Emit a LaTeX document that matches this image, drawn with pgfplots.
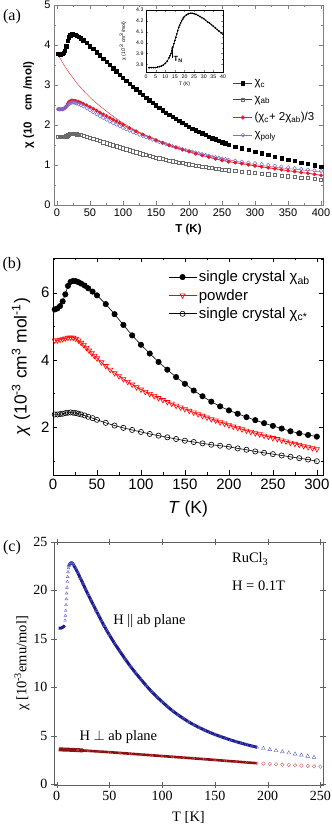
\documentclass[border=0pt]{standalone}
\usepackage{fontspec}
\setmainfont{Liberation Sans}
\newfontfamily\tnr{Liberation Serif}
\usepackage{pgfplots}
\usepackage{pgfplotstable}
\pgfplotsset{compat=1.18}
\usetikzlibrary{arrows.meta}

\newcommand\fsz[1]{\fontsize{#1pt}{#1pt}\selectfont}

\definecolor{lav}{RGB}{115,115,215}
\definecolor{redA}{RGB}{230,25,45}
\definecolor{grayA}{RGB}{105,105,105}
\definecolor{navyc}{RGB}{28,28,140}
\definecolor{lightnavy}{RGB}{95,95,205}
\definecolor{darkredc}{RGB}{140,18,18}
\definecolor{lightredc}{RGB}{205,95,95}

% panel (a): T, chi_c, chi_ab, (chi_c+2chi_ab)/3, chi_poly
\pgfplotstableread{
T chic chiab avg poly
2 3.78 1.700 2.393 2.400
4 3.77 1.700 2.390 2.400
6 3.77 1.700 2.390 2.400
8 3.78 1.700 2.393 2.400
10 3.80 1.700 2.400 2.410
12 3.86 1.710 2.427 2.420
14 3.97 1.720 2.470 2.450
16 4.10 1.745 2.530 2.490
18 4.19 1.765 2.573 2.520
20 4.24 1.775 2.597 2.545
22 4.27 1.780 2.610 2.560
24 4.27 1.780 2.610 2.565
26 4.26 1.780 2.607 2.560
28 4.25 1.775 2.600 2.550
30 4.23 1.770 2.590 2.540
33 4.20 1.765 2.577 2.520
36 4.17 1.755 2.560 2.500
40 4.12 1.740 2.533 2.465
45 4.05 1.715 2.493 2.420
50 3.97 1.690 2.450 2.370
55 3.90 1.660 2.407 2.320
60 3.82 1.630 2.360 2.270
65 3.74 1.600 2.313 2.225
70 3.66 1.570 2.267 2.180
75 3.58 1.545 2.223 2.135
80 3.50 1.520 2.180 2.090
85 3.42 1.495 2.137 2.050
90 3.34 1.470 2.093 2.010
95 3.26 1.445 2.050 1.970
100 3.18 1.420 2.007 1.930
105 3.10 1.395 1.963 1.895
110 3.03 1.370 1.923 1.860
115 2.96 1.345 1.883 1.825
120 2.89 1.320 1.843 1.790
125 2.82 1.295 1.803 1.760
130 2.75 1.270 1.763 1.725
135 2.68 1.250 1.727 1.695
140 2.62 1.230 1.693 1.665
145 2.55 1.210 1.657 1.635
150 2.49 1.190 1.623 1.605
155 2.43 1.170 1.590 1.575
160 2.37 1.150 1.557 1.550
165 2.31 1.130 1.523 1.520
170 2.26 1.110 1.493 1.495
175 2.20 1.095 1.463 1.470
180 2.15 1.080 1.437 1.445
185 2.10 1.065 1.410 1.420
190 2.05 1.050 1.383 1.395
195 2.00 1.035 1.357 1.370
200 1.96 1.020 1.333 1.350
205 1.91 1.005 1.307 1.330
210 1.87 0.990 1.283 1.310
215 1.83 0.975 1.260 1.290
220 1.79 0.960 1.237 1.270
225 1.75 0.950 1.217 1.250
230 1.71 0.940 1.197 1.230
235 1.67 0.925 1.173 1.210
240 1.64 0.910 1.153 1.195
245 1.60 0.900 1.133 1.180
250 1.57 0.890 1.117 1.160
255 1.54 0.880 1.100 1.145
260 1.51 0.870 1.083 1.130
270 1.46 0.855 1.057 1.105
280 1.42 0.840 1.033 1.080
290 1.38 0.820 1.007 1.060
300 1.33 0.800 0.977 1.040
310 1.29 0.785 0.953 1.020
320 1.25 0.770 0.930 1.000
330 1.21 0.755 0.907 0.980
340 1.17 0.740 0.883 0.960
350 1.13 0.720 0.857 0.940
360 1.10 0.705 0.837 0.920
370 1.06 0.690 0.813 0.900
380 1.03 0.675 0.793 0.885
390 0.99 0.655 0.767 0.865
400 0.96 0.635 0.743 0.850
}\tabA

% panel (b) powder
\pgfplotstableread{
T chi
2 4.58
5 4.58
8 4.60
11 4.62
14 4.64
17 4.66
20 4.67
23 4.66
26 4.63
29 4.58
32 4.51
35 4.44
38 4.36
41 4.28
44 4.20
47 4.12
50 4.05
55 3.93
60 3.82
65 3.71
70 3.61
75 3.52
80 3.43
85 3.35
90 3.27
95 3.19
100 3.12
105 3.05
110 2.99
115 2.93
120 2.87
125 2.81
130 2.75
135 2.70
140 2.64
145 2.59
150 2.54
155 2.49
160 2.44
165 2.39
170 2.34
175 2.29
180 2.24
185 2.20
190 2.15
195 2.11
200 2.06
205 2.02
210 1.98
215 1.94
220 1.90
225 1.86
230 1.82
235 1.79
240 1.75
245 1.72
250 1.68
255 1.65
260 1.61
265 1.58
270 1.54
275 1.51
280 1.48
285 1.44
290 1.41
295 1.38
300 1.35
}\tabPowder

\begin{document}
\begin{tikzpicture}
\path[use as bounding box] (0,0) rectangle (332pt,825pt);

% ---------------- (a)
\begin{axis}[at={(54pt,620pt)}, anchor=south west, scale only axis,
  width=269pt, height=200pt,
  xmin=-4.5, xmax=403, ymin=0, ymax=5,
  xtick={0,50,...,400}, ytick={0,1,...,5},
  minor x tick num=1, minor y tick num=1,
  tick align=inside, major tick length=4pt, minor tick length=2.2pt,
  axis line style={gray}, tick style={gray},
  /pgf/number format/assume math mode=true,
  ticklabel style={font=\fsz{11}},
  xlabel={T (K)},
  ylabel={χ (10\phantom{\textsuperscript{-3}} cm\phantom{\textsuperscript{3}}/mol)},
  label style={font=\bfseries\fsz{11.5}},
  xlabel style={at={(axis description cs:0.5,-0.125)}, anchor=center},
  ylabel style={at={(axis description cs:-0.097,0.5)}, anchor=center},
  legend cell align=left,
  legend style={draw=none, fill=none, font=\fsz{11.5},
    at={(0.654,0.65)}, anchor=north west, row sep=5pt},
  legend image code/.code={\draw[mark repeat=2,mark phase=2,#1]
    plot coordinates {(0pt,0pt) (9.5pt,0pt) (19pt,0pt)};},
]
\addlegendimage{gray!50!black, line width=0.5pt, mark=square*, mark size=1.8pt, mark options={fill=black, draw=black}}
\addlegendentry{χ\textsubscript{c}}
\addlegendimage{gray!50!black, line width=0.5pt, mark=square, mark size=1.8pt, mark options={draw=grayA}}
\addlegendentry{χ\textsubscript{ab}}
\addlegendimage{redA, line width=0.5pt, mark=*, mark size=1.8pt}
\addlegendentry{(χ\textsubscript{c}+ 2χ\textsubscript{ab})/3}
\addlegendimage{lav, line width=0.5pt, mark=o, mark size=1.8pt}
\addlegendentry{χ\textsubscript{poly}}

\addplot[only marks, mark=square*, mark size=1.7pt, black, forget plot] table[x=T, y=chic] {\tabA};
\addplot[only marks, mark=square, mark size=1.6pt, grayA, line width=0.45pt, forget plot] table[x=T, y=chiab] {\tabA};
\addplot[only marks, mark=*, mark size=1.7pt, redA, forget plot, restrict x to domain=0:97] table[x=T, y=avg] {\tabA};
\addplot[only marks, mark=o, mark size=1.8pt, lav, line width=0.5pt, forget plot] table[x=T, y=poly] {\tabA};
\addplot[redA, line width=0.8pt, forget plot] table[x=T, y=avg] {\tabA};
% Curie-Weiss fit
\addplot[redA, line width=0.4pt, smooth, forget plot] coordinates {
(2,3.75) (5,3.66) (10,3.52) (15,3.39) (20,3.27) (25,3.16) (30,3.05) (35,2.95)
(40,2.86) (50,2.69) (60,2.54) (70,2.41) (80,2.28) (90,2.16) (100,2.05)
(110,1.95) (120,1.86) (130,1.78) (140,1.71) (150,1.64) (170,1.51) (200,1.36)
(250,1.16) (300,1.01) (350,0.91) (400,0.83)};
\addplot[only marks, mark=*, mark size=1.7pt, redA, forget plot] coordinates {
(100,2.007) (110,1.923) (120,1.843) (130,1.763) (140,1.693) (150,1.623)
(160,1.557) (170,1.493) (180,1.437) (190,1.383) (200,1.333) (210,1.283)
(220,1.237) (230,1.197) (240,1.153) (250,1.117) (260,1.083) (270,1.057)
(280,1.033) (290,1.007) (300,0.977) (310,0.953) (320,0.930) (330,0.907)
(340,0.883) (350,0.857) (360,0.837) (370,0.813) (380,0.793) (390,0.767)
(400,0.743)};
\end{axis}

% inset of (a)
\begin{axis}[at={(146pt,753pt)}, anchor=south west, scale only axis,
  width=77pt, height=62pt,
  xmin=0, xmax=40, ymin=3.73, ymax=4.3,
  xtick={0,5,...,40}, ytick={3.8,3.9,4.0,4.1,4.2,4.3},
  minor y tick num=1, minor x tick num=0,
  tick align=inside, major tick length=2pt, minor tick length=1.2pt,
  axis background/.style={fill=white},
  axis line style={black, line width=0.4pt},
  /pgf/number format/assume math mode=true,
  yticklabel style={/pgf/number format/fixed, /pgf/number format/fixed zerofill,
    /pgf/number format/precision=1, xshift=1pt},
  xticklabel style={yshift=1pt},
  ticklabel style={font=\fsz{5.2}},
  xlabel={T (K)}, ylabel={χ (10\textsuperscript{-3} cm\textsuperscript{3}/mol)},
  label style={font=\fsz{5}},
  xlabel style={at={(axis description cs:0.5,-0.2)}, anchor=center},
  ylabel style={at={(axis description cs:-0.3,0.5)}, anchor=center},
]
\addplot[black, line width=0.6pt, mark=*, mark size=0.55pt] coordinates {
(1.5,3.77) (2,3.77) (3,3.77) (4,3.77) (5,3.77) (6,3.775) (7,3.78) (8,3.785)
(9,3.795) (10,3.81) (11,3.83) (12,3.86) (12.5,3.88) (13,3.90) (13.5,3.93)
(14,3.96) (14.5,3.99) (15,4.02) (15.5,4.05) (16,4.08) (16.5,4.11) (17,4.14)
(17.5,4.16) (18,4.18) (18.5,4.20) (19,4.215) (19.5,4.23) (20,4.24) (21,4.255)
(22,4.265) (23,4.27) (24,4.27) (25,4.265) (26,4.26) (27,4.25) (28,4.24)
(29,4.23) (30,4.22) (31,4.205) (32,4.19) (33,4.18) (34,4.165) (35,4.15)
(36,4.135) (37,4.12) (38,4.105) (39,4.09) (40,4.075)};
\draw[-{Stealth[length=2.5pt,width=2pt]}, line width=0.45pt] (axis cs:13.6,3.86) -- (axis cs:13.6,3.965);
\node[anchor=west, font=\bfseries\fsz{7.5}, inner sep=0pt] at (axis cs:14.3,3.845) {T\textsubscript{N}};
\end{axis}

% ---------------- (b)
\begin{axis}[at={(53pt,350pt)}, anchor=south west, scale only axis,
  width=270pt, height=217pt,
  xmin=0, xmax=307, ymin=0.58, ymax=7.03,
  xtick={0,50,...,300}, minor xtick={25,75,...,275},
  ytick={2,4,6}, minor ytick={1,3,5,7},
  tick align=inside, major tick length=4.5pt, minor tick length=2.5pt,
  axis line style={black}, tick style={black},
  /pgf/number format/assume math mode=true,
  ticklabel style={font=\fsz{15}},
  xlabel={\textit{T} (K)},
  ylabel={\textit{χ} (10\textsuperscript{-3} cm\textsuperscript{3} mol\textsuperscript{-1})},
  label style={font=\fsz{17.5}},
  xlabel style={at={(axis description cs:0.5,-0.155)}, anchor=center},
  ylabel style={at={(axis description cs:-0.118,0.5)}, anchor=center},
  legend cell align=left,
  legend style={draw=none, fill=none, font=\fsz{15},
    at={(0.415,0.96)}, anchor=north west, row sep=2pt},
  legend image code/.code={\draw[mark repeat=2,mark phase=2,#1]
    plot coordinates {(0pt,0pt) (14pt,0pt) (28pt,0pt)};},
]
\addplot[black, line width=0.6pt, mark=*, mark size=2.7pt] coordinates {
(2,5.50) (5,5.53) (8,5.60) (11,5.74) (14,5.95) (17,6.20) (20,6.32) (23,6.35)
(26,6.34) (29,6.31) (32,6.27) (36,6.21) (40,6.13) (45,6.03) (50,5.92)
(60,5.66) (70,5.36) (80,5.04) (90,4.73) (100,4.45) (110,4.19) (120,3.94)
(130,3.71) (140,3.49) (150,3.29) (160,3.09) (170,2.92) (180,2.76) (190,2.62)
(200,2.50) (210,2.40) (220,2.30) (230,2.21) (240,2.12) (250,2.04) (260,1.96)
(270,1.88) (280,1.82) (290,1.77) (300,1.72)};
\addlegendentry{single crystal χ\textsubscript{ab}}
\addplot[red, line width=0.6pt, mark=triangle, mark size=3pt, mark options={rotate=180, solid, line width=0.6pt}] table[x=T, y=chi] {\tabPowder};
\addlegendentry{powder}
\addplot[black, line width=0.6pt, mark=o, mark size=2.6pt] coordinates {
(2,2.38) (5,2.38) (8,2.39) (11,2.40) (14,2.42) (17,2.43) (20,2.44) (23,2.43)
(26,2.42) (29,2.40) (32,2.38) (36,2.35) (40,2.31) (45,2.27) (50,2.22)
(60,2.13) (70,2.05) (80,1.98) (90,1.92) (100,1.86) (110,1.80) (120,1.75)
(130,1.70) (140,1.65) (150,1.60) (160,1.56) (170,1.52) (180,1.48) (190,1.45)
(200,1.42) (210,1.37) (220,1.33) (230,1.28) (240,1.24) (250,1.20) (260,1.16)
(270,1.12) (280,1.08) (290,1.04) (300,0.99)};
\addlegendentry{single crystal χ\textsubscript{c*}}
\end{axis}

% ---------------- (c)
\begin{axis}[at={(54pt,40pt)}, anchor=south west, scale only axis,
  width=269pt, height=243pt,
  xmin=-2.5, xmax=252.5, ymin=-0.1, ymax=25,
  xtick={0,50,...,250}, ytick={0,5,...,25},
  tick align=center, major tick length=6pt,
  axis line style={gray!75!black}, tick style={gray!75!black},
  /pgf/number format/assume math mode=true,
  ticklabel style={font=\tnr\fsz{14}},
  xlabel={T [K]}, ylabel={χ [10\textsuperscript{-3}emu/mol]},
  label style={font=\tnr\fsz{14.5}},
  xlabel style={at={(axis description cs:0.5,-0.132)}, anchor=center},
  ylabel style={at={(axis description cs:-0.119,0.5)}, anchor=center},
]
% H parallel ab
\addplot[navyc, line width=3pt] coordinates {
(2,16.1) (3,16.1) (4,16.1) (5,16.15) (6,16.2) (7,16.3) (7.5,16.4)};
\addplot[only marks, lightnavy, mark=triangle, mark size=1.6pt, line width=0.4pt] coordinates {
(8.0,16.9) (8.3,17.4) (8.6,17.9) (8.9,18.5) (9.2,19.1) (9.5,19.7) (9.8,20.3)
(10.1,20.9) (10.4,21.4) (10.8,21.9) (11.2,22.3)};
\addplot[navyc, line width=3pt, mark=triangle, mark size=1.7pt, mark options={lightnavy, line width=0.35pt}] coordinates {
(11.5,22.5) (12,22.65) (13,22.8) (14,22.85) (15,22.8) (16,22.65) (18,22.25)
(20,21.85) (22.5,21.25) (25,20.7) (27.5,20.1) (30,19.55) (32.5,19.0)
(35,18.45) (37.5,17.9) (40,17.4) (42.5,16.85) (45,16.35) (47.5,15.85)
(50,15.4) (55,14.5) (60,13.7) (65,12.9) (70,12.15) (75,11.45) (80,10.8)
(85,10.15) (90,9.55) (95,9.0) (100,8.5) (105,8.0) (110,7.55) (115,7.15)
(120,6.78) (125,6.43) (130,6.12) (135,5.84) (140,5.58) (145,5.34)
(150,5.12) (155,4.92) (160,4.73) (165,4.55) (170,4.38) (175,4.22)
(180,4.07) (185,3.93) (190,3.80)};
\addplot[only marks, lightnavy, mark=triangle, mark size=2.2pt, line width=0.4pt] coordinates {
(196,3.68) (202,3.56) (208,3.45) (214,3.33) (220,3.22) (226,3.10) (232,2.99)
(238,2.87) (244,2.76)};
% H perp ab
\addplot[darkredc, line width=4pt] coordinates {
(2,3.58) (5,3.57) (10,3.55) (15,3.53) (20,3.50) (25,3.47)};
\addplot[darkredc, line width=2.6pt, mark=o, mark size=1.3pt, mark options={lightredc, line width=0.3pt}] coordinates {
(20,3.50) (30,3.43) (40,3.36) (50,3.29) (60,3.21) (70,3.13) (80,3.05)
(90,2.97) (100,2.89) (110,2.81) (120,2.73) (130,2.65) (140,2.57)
(150,2.49) (160,2.40) (170,2.32) (180,2.23) (190,2.15)};
\addplot[only marks, lightredc, mark=o, mark size=1.8pt, line width=0.4pt] coordinates {
(196,2.11) (202,2.07) (208,2.04) (214,2.00) (220,1.97) (226,1.93) (232,1.90)
(238,1.86) (244,1.83) (250,1.79)};
\node[anchor=west, font=\tnr\fsz{14.5}] at (axis cs:163,23.25) {RuCl\textsubscript{3}};
\node[anchor=west, font=\tnr\fsz{14.5}] at (axis cs:163,20.5) {H = 0.1T};
\node[font=\tnr\fsz{14.5}] at (axis cs:88,16.8) {H || ab plane};
\node[font=\tnr\fsz{14.5}] at (axis cs:58.5,4.85) {H $\perp$ ab plane};
\end{axis}

% panel letters
\node[font=\tnr\fsz{16}] at (12pt,808pt) {(a)};
\node[font=\tnr\fsz{16}] at (12pt,560pt) {(b)};
\node[font=\tnr\fsz{16}] at (12pt,277pt) {(c)};
\end{tikzpicture}
\end{document}
